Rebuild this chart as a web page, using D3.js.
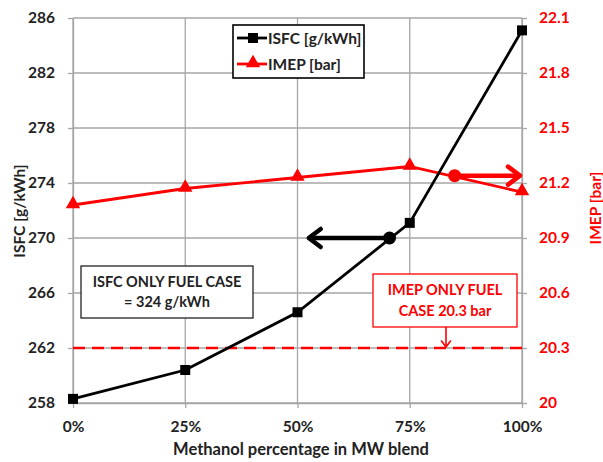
<!DOCTYPE html>
<html>
<head>
<meta charset="utf-8">
<script src="https://cdn.jsdelivr.net/npm/d3@7"></script>
<style>
  body { margin: 0; background: #fff; }
  text { font-family: Lato, "Open Sans", sans-serif; font-weight: bold; }
</style>
</head>
<body>
<svg id="chart"></svg>
<script>
// Datos del gráfico
const methanolPct = [0, 25, 50, 75, 100];
const isfcValues = [258.3, 260.4, 264.6, 271.1, 285.1];
const imepValues = [21.08, 21.17, 21.23, 21.29, 21.15];
const isfcTicks = [258, 262, 266, 270, 274, 278, 282, 286];
const imepTicks = [20, 20.3, 20.6, 20.9, 21.2, 21.5, 21.8, 22.1];
const xTicks = [0, 25, 50, 75, 100];
const isfcOnlyFuel = ["ISFC ONLY FUEL CASE", "= 324 g/kWh"];
const imepOnlyFuel = ["IMEP ONLY FUEL", "CASE 20.3 bar"];
const imepFuelLine = 20.3;
// anotaciones: punto sobre la curva y punta de la flecha
const isfcArrow = { from: [70.5, 270], to: [52.5, 270] };
const imepArrow = { from: [85, 21.24], to: [100, 21.24] };

const width = 603;
const height = 462;
const margin = { top: 18, right: 81, bottom: 59, left: 73 };
const innerW = width - margin.left - margin.right;
const innerH = height - margin.top - margin.bottom;
const gridColor = "#a6a6a6";

const svg = d3.select("#chart")
    .attr("width", width)
    .attr("height", height);

const g = svg.append("g")
    .attr("transform", `translate(${margin.left},${margin.top})`);

const x = d3.scaleLinear().domain([0, 100]).range([0, innerW]);
const yL = d3.scaleLinear().domain([258, 286]).range([innerH, 0]);
const yR = d3.scaleLinear().domain([20, 22.1]).range([innerH, 0]);

// Rejilla
g.append("g").selectAll("line")
    .data(isfcTicks)
    .enter().append("line")
    .attr("x1", 0).attr("x2", innerW)
    .attr("y1", d => yL(d)).attr("y2", d => yL(d))
    .attr("stroke", gridColor).attr("stroke-width", 1.3);

g.append("g").selectAll("line")
    .data(xTicks)
    .enter().append("line")
    .attr("x1", d => x(d)).attr("x2", d => x(d))
    .attr("y1", 0).attr("y2", innerH)
    .attr("stroke", gridColor).attr("stroke-width", 1.3);

// Ejes
function styleAxis(sel, color) {
    sel.select(".domain").attr("stroke", gridColor).attr("stroke-width", 1.3);
    sel.selectAll(".tick line").attr("stroke", gridColor).attr("stroke-width", 1.3);
    sel.selectAll(".tick text")
        .attr("fill", color)
        .style("font-size", "15.5px")
        .style("font-family", "Lato, sans-serif")
        .style("font-weight", "bold");
}

g.append("g")
    .call(d3.axisLeft(yL).tickValues(isfcTicks).tickSize(5).tickSizeOuter(0).tickPadding(13).tickFormat(d3.format("d")))
    .call(styleAxis, "#222");

g.append("g")
    .attr("transform", `translate(${innerW},0)`)
    .call(d3.axisRight(yR).tickValues(imepTicks).tickSize(5).tickSizeOuter(0).tickPadding(12).tickFormat(d => d3.format("")(d)))
    .call(styleAxis, "#ff0000");

g.append("g")
    .attr("transform", `translate(0,${innerH})`)
    .call(d3.axisBottom(x).tickValues(xTicks).tickSize(5).tickSizeOuter(0).tickPadding(13).tickFormat(d => d + "%"))
    .call(styleAxis, "#222");

// Títulos de ejes
svg.append("text")
    .attr("transform", `translate(25,211) rotate(-90)`)
    .attr("text-anchor", "middle")
    .attr("font-size", 15.5)
    .attr("fill", "#222")
    .text("ISFC [g/kWh]");

svg.append("text")
    .attr("transform", `translate(601,208) rotate(-90)`)
    .attr("text-anchor", "middle")
    .attr("font-size", 15.5)
    .attr("fill", "#ff0000")
    .text("IMEP [bar]");

svg.append("text")
    .attr("x", 301)
    .attr("y", 455)
    .attr("text-anchor", "middle")
    .attr("font-size", 16.5)
    .attr("fill", "#222")
    .text("Methanol percentage in MW blend");

// Línea discontinua IMEP solo combustible
g.append("line")
    .attr("x1", 0).attr("x2", innerW)
    .attr("y1", yR(imepFuelLine)).attr("y2", yR(imepFuelLine))
    .attr("stroke", "#ff0000")
    .attr("stroke-width", 2.4)
    .attr("stroke-dasharray", "12,7");

// Series
const lineIsfc = d3.line().x((d, i) => x(methanolPct[i])).y(d => yL(d));
const lineImep = d3.line().x((d, i) => x(methanolPct[i])).y(d => yR(d));

g.append("path")
    .attr("d", lineImep(imepValues))
    .attr("fill", "none")
    .attr("stroke", "#ff0000")
    .attr("stroke-width", 2.8);

g.append("path")
    .attr("d", lineIsfc(isfcValues))
    .attr("fill", "none")
    .attr("stroke", "#000")
    .attr("stroke-width", 2.8);

const tri = d3.symbol().type(d3.symbolTriangle).size(90);
g.selectAll("path.tri")
    .data(imepValues)
    .enter().append("path")
    .attr("class", "tri")
    .attr("d", tri)
    .attr("transform", (d, i) => `translate(${x(methanolPct[i])},${yR(d) - 1})`)
    .attr("fill", "#ff0000");

g.selectAll("rect.sq")
    .data(isfcValues)
    .enter().append("rect")
    .attr("class", "sq")
    .attr("x", (d, i) => x(methanolPct[i]) - 5)
    .attr("y", d => yL(d) - 5)
    .attr("width", 10)
    .attr("height", 10)
    .attr("fill", "#000");

// Flechas de anotación
function drawArrow(p0, p1, color, w, head) {
    const dx = p1[0] - p0[0];
    const dy = p1[1] - p0[1];
    const len = Math.sqrt(dx * dx + dy * dy);
    const ux = dx / len, uy = dy / len;
    g.append("line")
        .attr("x1", p0[0]).attr("y1", p0[1])
        .attr("x2", p1[0] - ux * w * 0.4).attr("y2", p1[1] - uy * w * 0.4)
        .attr("stroke", color).attr("stroke-width", w);
    const b1 = [p1[0] - ux * head + uy * head * 0.75, p1[1] - uy * head - ux * head * 0.75];
    const b2 = [p1[0] - ux * head - uy * head * 0.75, p1[1] - uy * head + ux * head * 0.75];
    g.append("path")
        .attr("d", `M${b1[0]},${b1[1]}L${p1[0]},${p1[1]}L${b2[0]},${b2[1]}`)
        .attr("fill", "none")
        .attr("stroke", color)
        .attr("stroke-width", w)
        .attr("stroke-linecap", "round")
        .attr("stroke-linejoin", "round");
}

const isfcFrom = [x(isfcArrow.from[0]), yL(isfcArrow.from[1])];
drawArrow(isfcFrom, [x(isfcArrow.to[0]), yL(isfcArrow.to[1])], "#000", 4.5, 12);
g.append("circle").attr("cx", isfcFrom[0]).attr("cy", isfcFrom[1]).attr("r", 6.5).attr("fill", "#000");

const imepFrom = [x(imepArrow.from[0]), yR(imepArrow.from[1])];
drawArrow(imepFrom, [x(imepArrow.to[0]) - 2, yR(imepArrow.to[1])], "#ff0000", 4.5, 12);
g.append("circle").attr("cx", imepFrom[0]).attr("cy", imepFrom[1]).attr("r", 6.5).attr("fill", "#ff0000");

// Caja ISFC solo combustible
const boxIsfc = svg.append("g").attr("transform", "translate(81,266)");
boxIsfc.append("rect")
    .attr("width", 172).attr("height", 52)
    .attr("fill", "#fff").attr("stroke", "#222").attr("stroke-width", 1.3);
boxIsfc.selectAll("text")
    .data(isfcOnlyFuel)
    .enter().append("text")
    .attr("x", 86)
    .attr("y", (d, i) => 21 + i * 20)
    .attr("text-anchor", "middle")
    .attr("font-size", 14.5)
    .attr("fill", "#222")
    .text(d => d);

// Caja IMEP solo combustible
const boxImep = svg.append("g").attr("transform", "translate(373,274)");
boxImep.append("rect")
    .attr("width", 144).attr("height", 53)
    .attr("fill", "#fff").attr("stroke", "#ff0000").attr("stroke-width", 1.3);
boxImep.selectAll("text")
    .data(imepOnlyFuel)
    .enter().append("text")
    .attr("x", 72)
    .attr("y", (d, i) => 21 + i * 21)
    .attr("text-anchor", "middle")
    .attr("font-size", 14.5)
    .attr("fill", "#ff0000")
    .text(d => d);

const arrowX = 446 - margin.left;
drawArrow([arrowX, 327 - margin.top], [arrowX, yR(imepFuelLine) - 1], "#ff0000", 1.6, 6);

// Leyenda
const legend = svg.append("g").attr("transform", "translate(233,25)");
legend.append("rect")
    .attr("width", 131).attr("height", 53)
    .attr("fill", "#fff").attr("stroke", "#000").attr("stroke-width", 1.6);

const legendData = [
    { label: "ISFC [g/kWh]", color: "#000", marker: "square" },
    { label: "IMEP [bar]", color: "#ff0000", marker: "triangle" }
];

legendData.forEach((d, i) => {
    const cy = 13 + i * 26;
    legend.append("line")
        .attr("x1", 4).attr("x2", 34)
        .attr("y1", cy).attr("y2", cy)
        .attr("stroke", d.color).attr("stroke-width", 2.8);
    if (d.marker === "square") {
        legend.append("rect")
            .attr("x", 15).attr("y", cy - 5)
            .attr("width", 10).attr("height", 10)
            .attr("fill", d.color);
    } else {
        legend.append("path")
            .attr("d", tri)
            .attr("transform", `translate(20,${cy - 1})`)
            .attr("fill", d.color);
    }
    legend.append("text")
        .attr("x", 35)
        .attr("y", cy + 5.5)
        .attr("font-size", 15.5)
        .attr("fill", "#222")
        .text(d.label);
});
</script>
</body>
</html>
